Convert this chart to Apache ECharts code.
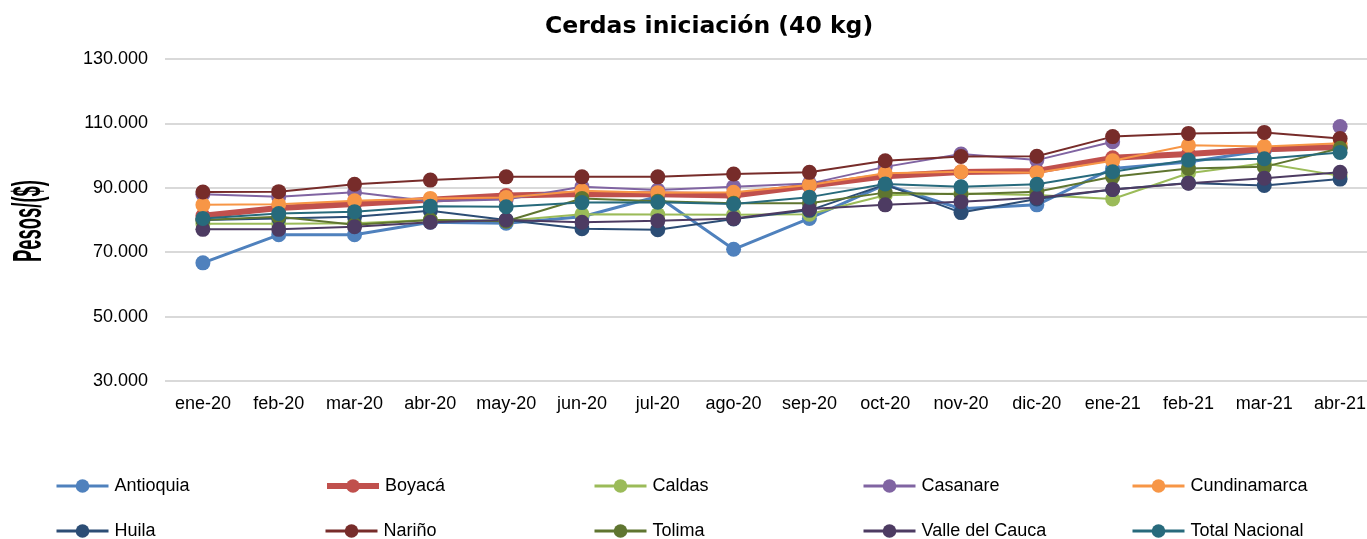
<!DOCTYPE html>
<html>
<head>
<meta charset="utf-8">
<script src="https://cdn.jsdelivr.net/npm/echarts@6/dist/echarts.min.js"></script>
<style>html,body{margin:0;padding:0;background:#fff;}#c{width:1367px;height:539px;}</style>
</head>
<body>
<div id="c"></div>
<script>
const categories = ['ene-20','feb-20','mar-20','abr-20','may-20','jun-20','jul-20','ago-20','sep-20','oct-20','nov-20','dic-20','ene-21','feb-21','mar-21','abr-21'];
const yTicks = [30000, 50000, 70000, 90000, 110000, 130000];

const antioquia    = [66700, 75400, 75400, 79300, 79000, 81000, 87300, 70900, 80500, 91000, 83500, 84700, 96000, 98000, 101600, 102600];
const boyaca       = [81300, 83700, 85000, 86300, 87600, 88100, 88000, 87600, 90600, 93600, 94900, 95200, 99300, 100500, 102000, 102700];
const caldas       = [78800, 78800, 79000, 80000, 79800, 81800, 81700, 81600, 81800, 87700, 88200, 87800, 86500, 94500, 97600, 93700];
const casanare     = [88000, 87200, 88600, 85800, 86400, 90300, 89300, 90300, 91300, 96500, 100500, 98600, 104300, '-', '-', 109000];
const cundinamarca = [84700, 84900, 86000, 86700, 87000, 89100, 88500, 88600, 90900, 94500, 95000, 94700, 98400, 103200, 102800, 103800];
const huila        = [80000, 80500, 81000, 82900, 80000, 77300, 77000, 80300, 83000, 91000, 82300, 86500, 89500, 91500, 90700, 92700];
const narino       = [88700, 88800, 91100, 92400, 93400, 93400, 93400, 94300, 94800, 98400, 99700, 99800, 105900, 106900, 107200, 105300];
const tolima       = [80000, 81000, 78500, 80000, 79600, 86700, 85800, 85200, 85200, 88500, 88000, 88800, 93400, 96000, 96500, 102300];
const valle        = [77100, 77100, 77900, 79300, 80000, 79300, 79800, 80500, 83400, 84700, 85700, 86900, 89500, 91400, 93000, 94800];
const totalNac     = [80500, 82000, 82600, 84300, 84100, 85400, 85500, 85000, 87100, 91200, 90300, 91100, 95000, 98600, 99000, 101000];

const seriesDefs = [
  ['Antioquia', antioquia, '#4F81BD', 3],
  ['Boyacá', boyaca, '#C0504D', 6],
  ['Caldas', caldas, '#9BBB59', 2],
  ['Casanare', casanare, '#8064A2', 2],
  ['Cundinamarca', cundinamarca, '#F79646', 2],
  ['Huila', huila, '#2C4D75', 2],
  ['Nariño', narino, '#772C2A', 2],
  ['Tolima', tolima, '#5F7530', 2],
  ['Valle del Cauca', valle, '#4D3B62', 2],
  ['Total Nacional', totalNac, '#276A7C', 2]
];

const series = seriesDefs.map(([name, data, color, w]) => ({
  name, type: 'line', data,
  symbol: 'circle', symbolSize: 15,
  connectNulls: false,
  itemStyle: { color },
  lineStyle: { color, width: w },
  emphasis: { disabled: true }
}));

const legends = seriesDefs.map(([name, , , w], i) => ({
  data: [name],
  left: 55 + (i % 5) * 269,
  top: 477 + Math.floor(i / 5) * 45,
  padding: 0,
  itemWidth: 52, itemHeight: 17, itemGap: 0,
  selectedMode: false,
  lineStyle: { width: w > 3 ? 6 : 3 },
  textStyle: { fontFamily: 'Liberation Sans, Arial, sans-serif', fontSize: 18, color: '#000', padding: [0,0,0,1] }
}));

const chart = echarts.init(document.getElementById('c'), null, { renderer: 'canvas' });
chart.setOption({
  animation: false,
  backgroundColor: '#fff',
  title: {
    text: 'Cerdas iniciación (40 kg)',
    left: 540, top: 10,
    textStyle: { fontFamily: 'DejaVu Sans, sans-serif', fontWeight: 'bold', fontSize: 23.5, color: '#000' }
  },
  legend: legends,
  graphic: [{
    type: 'text', x: 30, y: 221, rotation: Math.PI / 2, scaleX: 0.46, scaleY: 1,
    style: { text: 'Pesos/($)', font: 'bold 40px "Liberation Sans", Arial, sans-serif', fill: '#000', textAlign: 'center', textVerticalAlign: 'middle' }
  }],
  grid: { left: 165, top: 59, width: 1213, height: 322, outerBoundsMode: 'none', containLabel: false },
  xAxis: {
    type: 'category', data: categories, boundaryGap: true,
    axisLine: { show: false }, axisTick: { show: false },
    axisLabel: { fontFamily: 'Liberation Sans, Arial, sans-serif', fontSize: 18, color: '#000', margin: 14, interval: 0 }
  },
  yAxis: {
    type: 'value', min: yTicks[0], max: yTicks[yTicks.length - 1], interval: yTicks[1] - yTicks[0],
    axisLine: { show: false }, axisTick: { show: false },
    splitLine: { show: true, lineStyle: { color: '#D9D9D9', width: 2 } },
    axisLabel: {
      fontFamily: 'Liberation Sans, Arial, sans-serif', fontSize: 18, color: '#000', margin: 17,
      formatter: v => (v / 1000).toFixed(0) + '.000'
    }
  },
  series
});
</script>
</body>
</html>
